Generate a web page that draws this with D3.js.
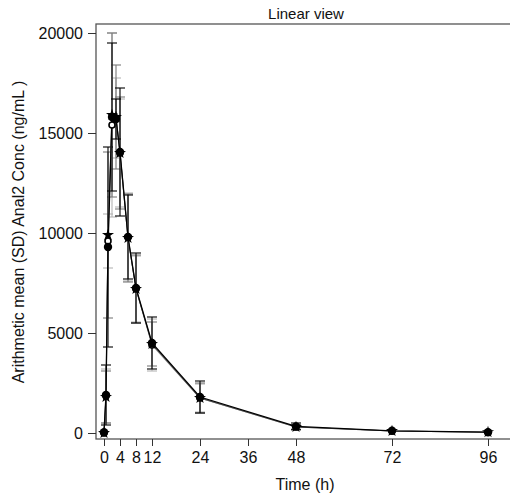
<!DOCTYPE html>
<html>
<head>
<meta charset="utf-8">
<script src="https://cdn.jsdelivr.net/npm/d3@7"></script>
<style>
    body { margin: 0; background: #fff; }
    svg { font-family: "Liberation Sans", Arial, sans-serif; }
    .tick text { font-size: 16px; fill: #111; }
    .axislabel { font-size: 16px; fill: #111; }
    .graphtitle { font-size: 15px; fill: #111; }
</style>
</head>
<body>
<svg id="pk" width="510" height="496"></svg>
<script>
// sampling times (h)
const times = [0, 0.5, 1, 2, 3, 4, 6, 8, 12, 24, 48, 72, 96];

// black series
const mean1 = [40, 1900, 9300, 15800, 15700, 14050, 9800, 7250, 4500, 1800, 330, 110, 40];
const sd1 = [0, 1500, 5000, 3700, 1000, 3200, 2100, 1750, 1300, 800, 170, 0, 0];
// dark grey series
const mean2 = [0, 1800, 9900, 15900, 15800, 14000, 9750, 7200, 4450, 1750, 300, 100, 40];
const sd2 = [0, 1300, 4150, 4100, 2600, 2800, 2200, 1700, 1100, 750, 120, 0, 0];
// light grey series
const mean3 = [0, 1850, 9600, 15400, 15750, 14000, 9800, 7200, 4400, 1750, 300, 100, 40];
const sd3 = [0, 1350, 1350, 4600, 2000, 2700, 2200, 1650, 1300, 700, 100, 0, 0];

const xTicks = [0, 4, 8, 12, 24, 36, 48, 72, 96];
const yTicks = [0, 5000, 10000, 15000, 20000];

class PkChart {

    constructor() {
        this.series = [
            {mean: mean3, sd: sd3, line: "#9a9a9a", bar: "#b4b4b4", marker: "open"},
            {mean: mean2, sd: sd2, line: "#505050", bar: "#7a7a7a", marker: "star"},
            {mean: mean1, sd: sd1, line: "#000", bar: "#000", marker: "dot"}
        ];
    }

    drawChart() {
        let g = d3.select("#pk");
        let xScale = d3.scaleLinear().domain([0, 96]).range([104, 488]);
        let yScale = d3.scaleLinear().domain([0, 20000]).range([433, 33]);

        // panel frame (right edge runs off the picture)
        g.append("rect").attr("x", 96).attr("y", 24).attr("width", 420).attr("height", 415)
            .attr("fill", "none").attr("stroke", "#555").attr("stroke-width", 1.3);
        g.append("text").attr("class", "graphtitle").attr("x", 306).attr("y", 19)
            .attr("text-anchor", "middle").text("Linear view");

        let xAxis = d3.axisBottom(xScale).tickValues(xTicks).tickSize(7).tickPadding(6)
            .tickFormat(d => d);
        let x = g.append("g").attr("transform", "translate(0,439)").call(xAxis);
        x.select(".domain").remove();
        x.selectAll(".tick line").attr("stroke", "#333");
        g.append("text").attr("class", "axislabel").attr("x", 305).attr("y", 490)
            .attr("text-anchor", "middle").text("Time (h)");

        let yAxis = d3.axisLeft(yScale).tickValues(yTicks).tickSize(8).tickPadding(5)
            .tickFormat(d => d);
        let y = g.append("g").attr("transform", "translate(96,0)").call(yAxis);
        y.select(".domain").remove();
        y.selectAll(".tick line").attr("stroke", "#333");
        g.append("text").attr("class", "axislabel")
            .attr("transform", "translate(24,232) rotate(270)")
            .attr("text-anchor", "middle").text("Arithmetic mean (SD) Anal2 Conc (ng/mL )");

        let lineGenerator = d3.line()
            .x((d, i) => xScale(times[i]))
            .y(d => yScale(d));

        this.series.forEach(s => {
            let rows = times.map((t, i) => ({t: t, m: s.mean[i], sd: s.sd[i]}))
                .filter(d => d.sd > 0);
            let bars = g.append("g").attr("stroke", s.bar).attr("stroke-width", 1.1);
            bars.selectAll(".stem").data(rows).join("line")
                .attr("x1", d => xScale(d.t)).attr("x2", d => xScale(d.t))
                .attr("y1", d => yScale(d.m - d.sd)).attr("y2", d => yScale(d.m + d.sd));
            bars.selectAll(".capTop").data(rows).join("line")
                .attr("x1", d => xScale(d.t) - 5).attr("x2", d => xScale(d.t) + 5)
                .attr("y1", d => yScale(d.m + d.sd)).attr("y2", d => yScale(d.m + d.sd));
            bars.selectAll(".capBot").data(rows).join("line")
                .attr("x1", d => xScale(d.t) - 5).attr("x2", d => xScale(d.t) + 5)
                .attr("y1", d => yScale(d.m - d.sd)).attr("y2", d => yScale(d.m - d.sd));
        });

        this.series.forEach(s => {
            g.append("path").attr("d", lineGenerator(s.mean))
                .attr("fill", "none").attr("stroke", s.line)
                .attr("stroke-width", s.marker === "dot" ? 1.3 : 1.1);
        });

        this.series.forEach(s => {
            let pts = g.append("g");
            if (s.marker === "dot") {
                pts.selectAll("circle").data(s.mean).join("circle")
                    .attr("cx", (d, i) => xScale(times[i])).attr("cy", d => yScale(d))
                    .attr("r", 4.2).attr("fill", "#000");
            } else if (s.marker === "open") {
                pts.selectAll("circle").data(s.mean).join("circle")
                    .attr("cx", (d, i) => xScale(times[i])).attr("cy", d => yScale(d))
                    .attr("r", 3).attr("fill", "#fff").attr("stroke", "#000").attr("stroke-width", 1.6);
            } else {
                pts.selectAll("path").data(s.mean).join("path")
                    .attr("d", d3.symbol().type(d3.symbolStar).size(45))
                    .attr("transform", (d, i) => "translate(" + xScale(times[i]) + "," + yScale(d) + ")")
                    .attr("fill", "#000");
            }
        });
    }
}

new PkChart().drawChart();
</script>
</body>
</html>
